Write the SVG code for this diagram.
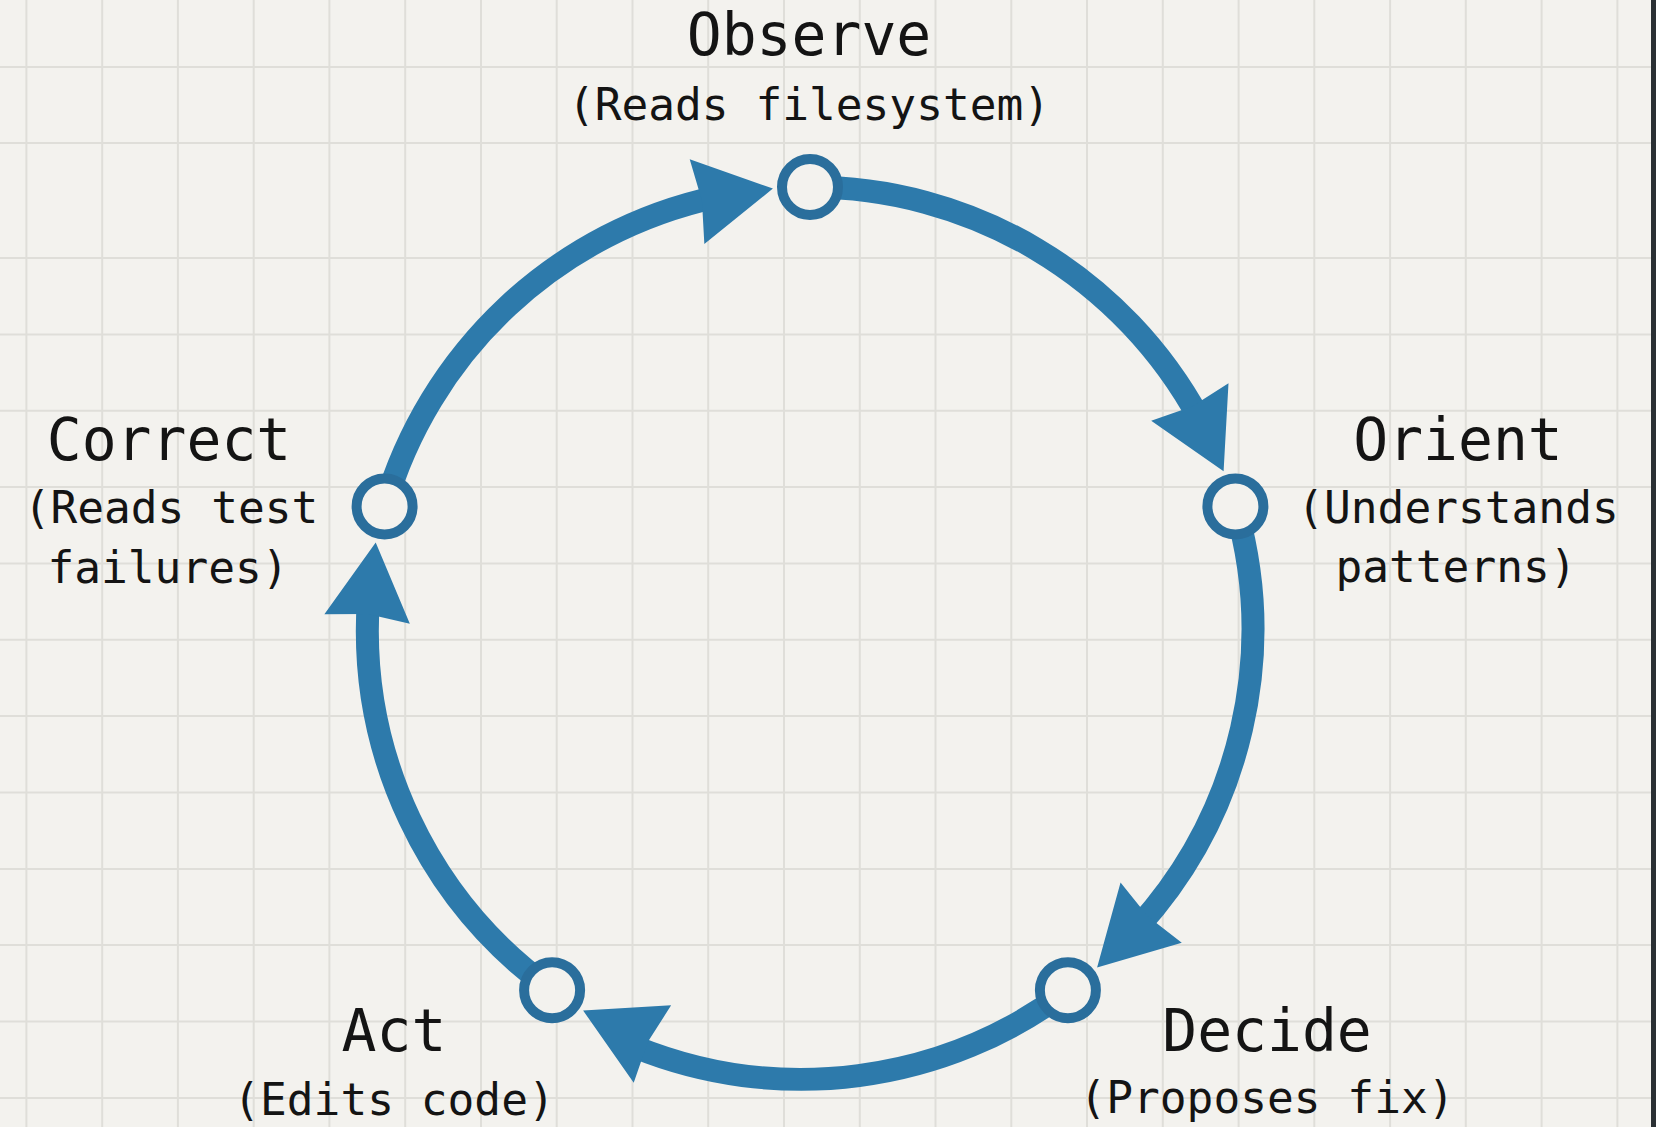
<svg xmlns="http://www.w3.org/2000/svg" xmlns:xlink="http://www.w3.org/1999/xlink" width="1656" height="1127" viewBox="0 0 1656 1127">
<style>
.grid line{stroke:#dfded9;stroke-width:2}
.arc{fill:none;stroke:#2d7aab;stroke-width:23;stroke-linecap:butt}
.head{fill:#2d7aab}
.ring{fill:#f3f2ee;stroke:#2a6e9c;stroke-width:10}
.title{font-family:"DejaVu Sans Mono","Liberation Mono",monospace;font-size:58px;fill:#141414;text-anchor:middle}
.sub{font-family:"DejaVu Sans Mono","Liberation Mono",monospace;font-size:44.5px;fill:#141414;text-anchor:middle}
</style>
<defs>
<polygon id="ah" class="head" points="0,0 -77,-43 -72,0 -77,43"/>
</defs>
<rect x="0" y="0" width="1656" height="1127" fill="#f3f2ee"/>
<g class="grid">
<line x1="26.4" y1="0" x2="26.4" y2="1127"/>
<line x1="102.2" y1="0" x2="102.2" y2="1127"/>
<line x1="177.9" y1="0" x2="177.9" y2="1127"/>
<line x1="253.7" y1="0" x2="253.7" y2="1127"/>
<line x1="329.4" y1="0" x2="329.4" y2="1127"/>
<line x1="405.2" y1="0" x2="405.2" y2="1127"/>
<line x1="481" y1="0" x2="481" y2="1127"/>
<line x1="556.7" y1="0" x2="556.7" y2="1127"/>
<line x1="632.5" y1="0" x2="632.5" y2="1127"/>
<line x1="708.2" y1="0" x2="708.2" y2="1127"/>
<line x1="784" y1="0" x2="784" y2="1127"/>
<line x1="859.8" y1="0" x2="859.8" y2="1127"/>
<line x1="935.5" y1="0" x2="935.5" y2="1127"/>
<line x1="1011.3" y1="0" x2="1011.3" y2="1127"/>
<line x1="1087" y1="0" x2="1087" y2="1127"/>
<line x1="1162.8" y1="0" x2="1162.8" y2="1127"/>
<line x1="1238.6" y1="0" x2="1238.6" y2="1127"/>
<line x1="1314.3" y1="0" x2="1314.3" y2="1127"/>
<line x1="1390.1" y1="0" x2="1390.1" y2="1127"/>
<line x1="1465.8" y1="0" x2="1465.8" y2="1127"/>
<line x1="1541.6" y1="0" x2="1541.6" y2="1127"/>
<line x1="1617.4" y1="0" x2="1617.4" y2="1127"/>
<line x1="0" y1="67" x2="1656" y2="67"/>
<line x1="0" y1="143" x2="1656" y2="143"/>
<line x1="0" y1="258" x2="1656" y2="258"/>
<line x1="0" y1="334.4" x2="1656" y2="334.4"/>
<line x1="0" y1="410.7" x2="1656" y2="410.7"/>
<line x1="0" y1="487" x2="1656" y2="487"/>
<line x1="0" y1="563.4" x2="1656" y2="563.4"/>
<line x1="0" y1="639.8" x2="1656" y2="639.8"/>
<line x1="0" y1="716" x2="1656" y2="716"/>
<line x1="0" y1="792.5" x2="1656" y2="792.5"/>
<line x1="0" y1="869" x2="1656" y2="869"/>
<line x1="0" y1="945" x2="1656" y2="945"/>
<line x1="0" y1="1021.6" x2="1656" y2="1021.6"/>
<line x1="0" y1="1098" x2="1656" y2="1098"/>
</g>
<rect x="1651" y="0" width="5" height="1127" fill="#2b3034"/>
<g id="connectors">
<path class="arc" d="M810 187 A443 443 0 0 1 1199.3 418.6"/>
<use xlink:href="#ah" href="#ah" transform="translate(1223.6 471.2) rotate(64)"/>
<path class="arc" d="M1235.4 506.4 A443 443 0 0 1 1138.8 926.1"/>
<use xlink:href="#ah" href="#ah" transform="translate(1097.1 967.4) rotate(134.6)"/>
<path class="arc" d="M1067.9 990.2 A443 443 0 0 1 634.7 1046.8"/>
<use xlink:href="#ah" href="#ah" transform="translate(583.1 1010.5) rotate(205.8)"/>
<path class="arc" d="M552.1 990.2 A443 443 0 0 1 368.4 600"/>
<use xlink:href="#ah" href="#ah" transform="translate(375.7 542.4) rotate(276.4)"/>
<path class="arc" d="M384.6 506.4 A443 443 0 0 1 715.4 197.2"/>
<use xlink:href="#ah" href="#ah" transform="translate(772.9 188.6) rotate(350.2)"/>
</g>
<g id="observe">
<circle class="ring" cx="810" cy="187" r="28"/>
<text class="title" x="809" y="55">Observe</text>
<text class="sub" x="809" y="120">(Reads filesystem)</text>
</g>
<g id="orient">
<circle class="ring" cx="1235.4" cy="506.4" r="28"/>
<text class="title" x="1458" y="460">Orient</text>
<text class="sub" x="1458" y="523">(Understands</text>
<text class="sub" x="1456" y="582">patterns)</text>
</g>
<g id="decide">
<circle class="ring" cx="1067.9" cy="990.2" r="28"/>
<text class="title" x="1267" y="1051">Decide</text>
<text class="sub" x="1267" y="1113">(Proposes fix)</text>
</g>
<g id="act">
<circle class="ring" cx="552.1" cy="990.2" r="28"/>
<text class="title" x="394" y="1051">Act</text>
<text class="sub" x="394" y="1115">(Edits code)</text>
</g>
<g id="correct">
<circle class="ring" cx="384.6" cy="506.4" r="28"/>
<text class="title" x="169" y="460">Correct</text>
<text class="sub" x="171" y="523">(Reads test</text>
<text class="sub" x="168" y="583">failures)</text>
</g>
</svg>
